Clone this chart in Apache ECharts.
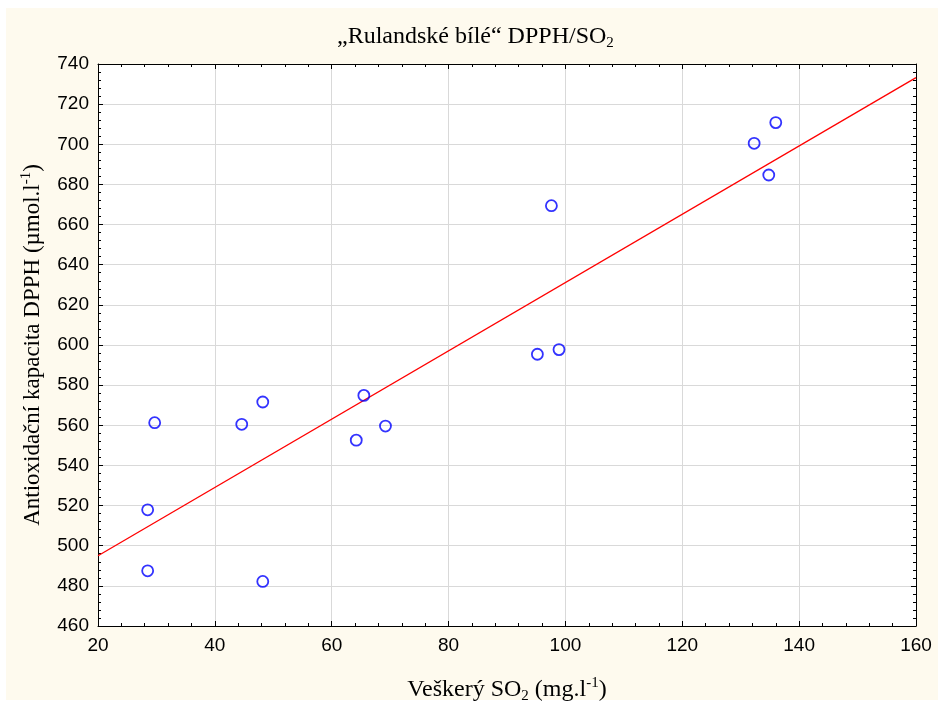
<!DOCTYPE html>
<html>
<head>
<meta charset="utf-8">
<script src="https://cdn.jsdelivr.net/npm/echarts@6/dist/echarts.min.js"></script>
<style>
html,body{margin:0;padding:0;background:#fff;}
#c{width:938px;height:704px;}
</style>
</head>
<body>
<div id="c"></div>
<script>
// Data
const so2  = [28.5, 28.5, 29.7, 44.6, 48.2, 48.2, 64.2, 65.5, 69.2, 95.2, 98.9, 97.6, 132.3, 136.0, 134.8];
const dpph = [517.9, 487.5, 561.3, 560.5, 571.6, 482.2, 552.6, 574.9, 559.6, 595.4, 597.7, 669.4, 700.5, 710.8, 684.7];
const fitX = [20, 160];
const fitY = [495.0, 733.2];
const xTicks = [20, 40, 60, 80, 100, 120, 140, 160];
const yTicks = [460, 480, 500, 520, 540, 560, 580, 600, 620, 640, 660, 680, 700, 720, 740];

const serif = 'Liberation Serif';
const sans = 'Liberation Sans';

const pts = so2.map((x, i) => [x, dpph[i]]);
const fit = fitX.map((x, i) => [x, fitY[i]]);

const chart = echarts.init(document.getElementById('c'));

const axisCommon = (isX, pos, showLabel) => ({
  type: 'value',
  position: pos,
  min: isX ? xTicks[0] : yTicks[0],
  max: isX ? xTicks[xTicks.length - 1] : yTicks[yTicks.length - 1],
  interval: 20,
  axisLine: { show: true, onZero: false, lineStyle: { color: '#000', width: 1 } },
  axisTick: { show: true, inside: true, length: 5, lineStyle: { color: '#000' } },
  minorTick: { show: true, splitNumber: 5, length: 3, lineStyle: { color: '#000' } },
  axisLabel: { show: showLabel, color: '#000', fontFamily: sans, fontSize: 19, margin: isX ? 10 : 9 },
  splitLine: { show: showLabel, lineStyle: { color: '#d9d9d9', width: 1 } }
});

const xMain = Object.assign(axisCommon(true, 'bottom', true), {
  name: '{t|Veškerý SO}{s|2}{t| (mg.l}{p|-1}{t|)}',
  nameLocation: 'middle',
  nameGap: 50,
  nameTextStyle: {
    rich: {
      t: { fontFamily: serif, fontSize: 24, color: '#000', lineHeight: 28 },
      s: { fontFamily: serif, fontSize: 15, color: '#000', verticalAlign: 'bottom', lineHeight: 14 },
      p: { fontFamily: serif, fontSize: 15, color: '#000', verticalAlign: 'top', lineHeight: 14 }
    }
  }
});
const yMain = Object.assign(axisCommon(false, 'left', true), {
  name: '{t|Antioxidační kapacita DPPH (µmol.l}{p|-1}{t|)}',
  nameLocation: 'middle',
  nameGap: 51,
  nameRotate: 90,
  nameTextStyle: {
    rich: {
      t: { fontFamily: serif, fontSize: 23, color: '#000', lineHeight: 28 },
      p: { fontFamily: serif, fontSize: 15, color: '#000', verticalAlign: 'top', lineHeight: 14 }
    }
  }
});

chart.setOption({
  backgroundColor: '#ffffff',
  animation: false,
  graphic: [{
    type: 'rect', z: -100, silent: true,
    shape: { x: 6, y: 8, width: 932, height: 692 },
    style: { fill: '#fefaee' }
  }],
  title: {
    text: '{t|„Rulandské bílé“ DPPH/SO}{s|2}',
    left: 337,
    top: 23,
    padding: 0,
    textStyle: {
      fontWeight: 'normal',
      rich: {
        t: { fontFamily: serif, fontSize: 24, fontWeight: 'normal', color: '#000', lineHeight: 28 },
        s: { fontFamily: serif, fontSize: 15, fontWeight: 'normal', color: '#000', verticalAlign: 'bottom', lineHeight: 14 }
      }
    }
  },
  grid: { left: 98, right: 22, top: 64, bottom: 78, outerBoundsMode: 'none', containLabel: false, show: true, backgroundColor: '#ffffff', borderWidth: 0 },
  xAxis: [xMain, axisCommon(true, 'top', false)],
  yAxis: [yMain, axisCommon(false, 'right', false)],
  series: [
    {
      type: 'line',
      data: fit,
      symbol: 'none',
      lineStyle: { color: '#ff0000', width: 1.3 },
      z: 2
    },
    {
      type: 'scatter',
      data: pts,
      symbol: 'circle',
      symbolSize: 11,
      itemStyle: { color: 'rgba(255,255,255,0)', borderColor: '#0000ff', borderWidth: 1.8 },
      z: 3
    }
  ]
});
</script>
</body>
</html>
